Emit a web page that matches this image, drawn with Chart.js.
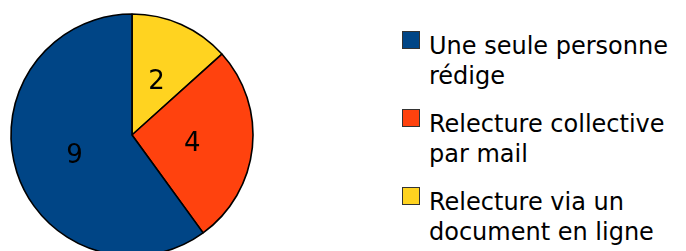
<!DOCTYPE html>
<html>
<head>
<meta charset="utf-8">
<script src="https://cdn.jsdelivr.net/npm/chart.js@4"></script>
<style>
  html, body {
    margin: 0;
    padding: 0;
    width: 686px;
    height: 251px;
    overflow: hidden;
    background: #fff;
    font-family: 'DejaVu Sans', sans-serif;
  }
  #pie-wrap {
    position: absolute;
    left: 0;
    top: 3px;
    width: 264px;
    height: 264px;
  }
  #legend {
    position: absolute;
    left: 402px;
    top: 30.5px;
    color: #000;
    font-size: 24px;
    line-height: 30.5px;
  }
  .item {
    display: flex;
    align-items: flex-start;
    height: 78px;
  }
  .swatch {
    width: 16px;
    height: 16px;
    border: 1px solid #333;
    flex: none;
  }
  .label {
    margin-left: 9px;
  }
</style>
</head>
<body>
<div id="pie-wrap"><canvas id="pie"></canvas></div>
<div id="legend"></div>
<script>
// legend order (top to bottom)
const categories = [
  ['Une seule personne', 'rédige'],
  ['Relecture collective', 'par mail'],
  ['Relecture via un', 'document en ligne']
];
const counts = [9, 4, 2];
const colors = ['#004586', '#ff420e', '#ffd320'];

// the pie is drawn clockwise from the top starting with the last category
const pieLabels = categories.map(c => c.join(' ')).reverse();
const pieValues = counts.slice().reverse();
const pieColors = colors.slice().reverse();

const valueLabels = {
  id: 'valueLabels',
  afterDatasetsDraw(chart) {
    const ctx = chart.ctx;
    const meta = chart.getDatasetMeta(0);
    ctx.save();
    ctx.font = '26px "DejaVu Sans"';
    ctx.fillStyle = '#000';
    ctx.textAlign = 'center';
    ctx.textBaseline = 'alphabetic';
    meta.data.forEach((arc, i) => {
      const p = arc.tooltipPosition();
      ctx.fillText(String(pieValues[i]), p.x, p.y + 9.5);
    });
    ctx.restore();
  }
};

new Chart(document.getElementById('pie'), {
  type: 'pie',
  data: {
    labels: pieLabels,
    datasets: [{
      data: pieValues,
      backgroundColor: pieColors,
      borderColor: '#000',
      borderWidth: 1.6
    }]
  },
  options: {
    responsive: true,
    maintainAspectRatio: false,
    animation: false,
    radius: 121,
    layout: { padding: 0 },
    plugins: {
      legend: { display: false },
      tooltip: { enabled: false }
    }
  },
  plugins: [valueLabels]
});

const legend = document.getElementById('legend');
categories.forEach((lines, i) => {
  const item = document.createElement('div');
  item.className = 'item';
  const sw = document.createElement('div');
  sw.className = 'swatch';
  sw.style.background = colors[i];
  const lab = document.createElement('div');
  lab.className = 'label';
  lab.innerHTML = lines.join('<br>');
  item.appendChild(sw);
  item.appendChild(lab);
  legend.appendChild(item);
});
</script>
</body>
</html>
